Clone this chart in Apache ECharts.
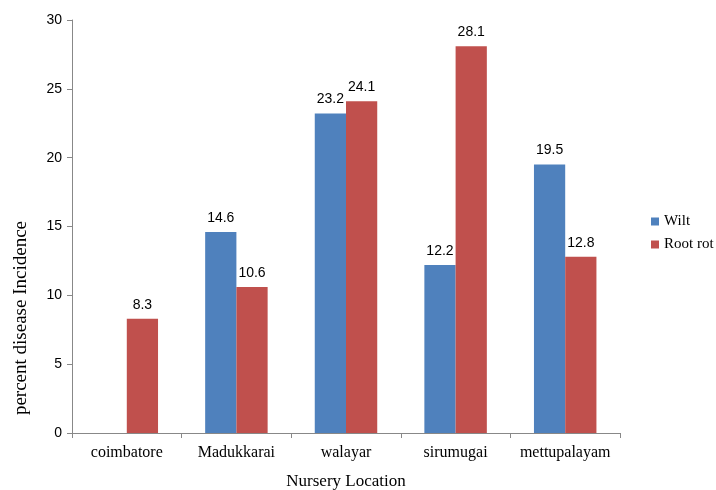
<!DOCTYPE html>
<html>
<head>
<meta charset="utf-8">
<script src="https://cdn.jsdelivr.net/npm/echarts@6/dist/echarts.min.js"></script>
<style>
  html,body{margin:0;padding:0;background:#fff;}
  #chart{width:716px;height:490px;}
</style>
</head>
<body>
<div id="chart"></div>
<script>
var locations = ['coimbatore', 'Madukkarai', 'walayar', 'sirumugai', 'mettupalayam'];
var wilt = [null, 14.6, 23.2, 12.2, 19.5];
var rootRot = [8.3, 10.6, 24.1, 28.1, 12.8];

var chart = echarts.init(document.getElementById('chart'));
var option = {
    animation: false,
    grid: {
        left: 72,
        right: 96,
        top: 20,
        bottom: 57,
        outerBoundsMode: 'none'
    },
    legend: {
        orient: 'vertical',
        left: 646,
        top: 209,
        itemWidth: 8,
        itemHeight: 8,
        itemGap: 8,
        icon: 'rect',
        textStyle: {
            fontFamily: 'Liberation Serif',
            fontSize: 15,
            color: '#000'
        },
        data: ['Wilt', 'Root rot']
    },
    xAxis: {
        type: 'category',
        data: locations,
        name: 'Nursery Location',
        nameLocation: 'middle',
        nameGap: 40,
        nameTextStyle: {
            fontFamily: 'Liberation Serif',
            fontSize: 17,
            color: '#000'
        },
        axisLine: { lineStyle: { color: '#888' } },
        axisTick: { show: true, length: 5, lineStyle: { color: '#888' } },
        axisLabel: {
            interval: 0,
            fontFamily: 'Liberation Serif',
            fontSize: 16,
            color: '#000',
            margin: 12
        }
    },
    yAxis: {
        type: 'value',
        min: 0,
        max: 30,
        interval: 5,
        axisLine: { show: true, lineStyle: { color: '#888' } },
        axisTick: { show: true, length: 5, lineStyle: { color: '#888' } },
        splitLine: { show: false },
        axisLabel: {
            fontFamily: 'Liberation Sans',
            fontSize: 14,
            color: '#000',
            margin: 10
        }
    },
    graphic: [{
        type: 'text',
        left: 12,
        top: 221,
        rotation: Math.PI / 2,
        style: {
            text: 'percent disease Incidence',
            font: '19px "Liberation Serif"',
            fill: '#000'
        }
    }],
    series: [{
        name: 'Wilt',
        type: 'bar',
        barGap: '0%',
        barCategoryGap: '43%',
        itemStyle: { color: '#4F81BD' },
        label: {
            show: true,
            position: 'top',
            distance: 7,
            fontFamily: 'Liberation Sans',
            fontSize: 14,
            color: '#000'
        },
        data: wilt
    }, {
        name: 'Root rot',
        type: 'bar',
        itemStyle: { color: '#C0504D' },
        label: {
            show: true,
            position: 'top',
            distance: 7,
            fontFamily: 'Liberation Sans',
            fontSize: 14,
            color: '#000'
        },
        data: rootRot
    }]
};
chart.setOption(option);
</script>
</body>
</html>
